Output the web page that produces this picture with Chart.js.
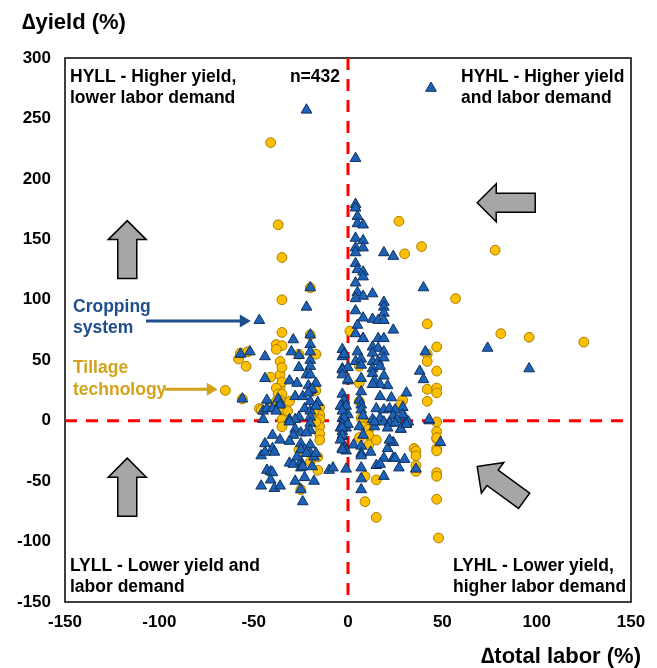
<!DOCTYPE html>
<html>
<head>
<meta charset="utf-8">
<script src="https://cdn.jsdelivr.net/npm/chart.js@4.4.1/dist/chart.umd.min.js"></script>
<style>
  body { margin: 0; background: #fff; }
  #wrap { width: 657px; height: 668px; position: relative; }
</style>
</head>
<body>
<div id="wrap"><canvas id="scatterChart"></canvas></div>
<script>
// axis ranges (% change)
const xRange = [-150, 150];
const yRange = [-150, 300];
const tickStep = 50;

// Cropping system studies: [delta total labor %, delta yield %]
const croppingSystem = [
  [-22,257],[44,275],[4,217],[4,179],[4,176],[5,169],[5,163],[8,162],[4,151],[8,149],[4,143],[8,143],
  [4,139],[19,139],[24,136],[4,130],[5,125],[8,123],[8,119],[-20,110],[4,114],[5,106],[8,103],[4,101],
  [13,105],[40,110],[-22,94],[19,98],[19,94],[19,89],[4,91],[-47,83],[8,85],[13,84],[16,83],[19,83],
  [5,79],[4,72],[24,75],[-20,71],[-29,67],[8,68],[16,68],[19,68],[-20,63],[74,60],[96,43],[41,57],
  [38,41],[40,34],[31,23],[29,11],[30,3],[31,-2],[28,-7],[43,0],[49,-18],
  [-57,55],[-52,57],[-44,53],[-56,18],[-44,35],[-43,17],[-45,8],[-45,1],
  [-20,57],[-30,57],[-26,54],[-20,50],[-26,44],[-20,45],[-22,38],[-20,38],[-31,33],[-27,31],[-21,29],
  [-17,31],[-20,25],[-19,26],[-28,20],[-24,20],[-20,16],[-16,15],[-21,23],[-36,15],[-37,18],[-43,10],
  [-40,10],[-36,13],[-38,8],[-23,10],[-20,8],[-17,12],[-31,1],[-26,3],[-20,3],[-28,1],
  [-31,-1],[-28,-7],[-25,-10],[-20,-2],[-20,-8],[-22,-10],[-40,-12],[-36,-16],[-29,-12],[-31,-17],
  [-44,-19],[-40,-23],[-39,-26],[-46,-29],[-44,-26],[-25,-19],[-20,-20],[-23,-24],[-20,-27],[-25,-24],
  [-22,-27],[-18,-30],[-17,-27],[-19,-38],[-31,-35],[-29,-36],[-25,-34],[-25,-39],[-24,-38],[-27,-30],
  [-43,-41],[-41,-42],[-40,-43],[-23,-47],[-28,-50],[-18,-50],[-41,-49],[-46,-54],[-39,-56],[-36,-54],
  [-25,-57],[-24,-67],[-10,-41],[-8,-39],[-1,-40],
  [8,68],[-3,59],[5,57],[13,61],[16,60],[19,57],[13,56],[-3,53],[4,49],[7,51],[7,46],[13,49],[16,49],
  [19,52],[-3,43],[0,44],[13,43],[17,45],[13,39],[7,35],[0,33],[14,33],[19,37],[21,29],[17,30],[13,30],
  [23,19],[17,20],[7,24],[6,17],[-3,22],[-2,17],[-3,12],[15,10],[19,9],[22,10],[25,9],[29,5],
  [24,4],[17,2],[13,1],[7,13],[7,9],[8,4],[-2,9],[0,5],[-3,2],[26,1],[32,-1],[43,1],
  [-2,55],[-3,42],[-3,38],[0,34],[-4,12],[-1,12],[-3,8],[-2,2],[-3,-3],[-4,-6],[-3,-9],[-1,-6],
  [-3,-13],[-2,-21],[-1,-25],[-3,-23],
  [0,-3],[-3,-6],[-3,-12],[-4,-16],[6,-5],[8,-12],[14,-5],[14,-1],[19,-1],[22,-2],[25,-2],[28,-7],
  [31,-3],[21,-6],[3,-20],[7,-21],[12,-26],[21,-23],[24,-18],[22,-16],[-3,-24],[7,-27],[7,-29],
  [19,-31],[24,-31],[25,-31],[30,-32],[15,-37],[17,-36],[27,-39],[36,-40],[7,-39],[19,-46],[7,-48],[7,-57]
];

// Tillage technology studies: [delta total labor %, delta yield %]
const tillageTech = [
  [-41,230],[-37,162],[27,165],[39,144],[30,138],[-35,135],[-20,110],[57,101],[-35,100],[42,80],[1,74],
  [-35,73],[-20,71],[-38,63],[-35,62],[47,61],[78,141],[81,72],[96,69],[125,65],[42,55],[42,49],
  [47,41],[42,26],[47,27],[47,23],[42,16],[29,17],[35,-23],[47,-1],[47,-9],[47,-15],[47,-23],
  [-58,51],[-57,56],[-53,57],[-54,45],[-65,25],[-56,18],[-38,59],[-36,49],[-36,38],[-36,28],[-47,10],[-41,13],
  [-26,55],[-17,55],[-35,44],[-41,36],[-35,32],[-38,27],[-37,22],[-35,22],[-31,16],[-36,17],[-38,16],
  [-17,25],[-46,9],[-35,9],[-32,8],[-15,11],[-15,5],[-18,8],[-15,1],[-35,1],
  [-35,-5],[-15,-5],[-15,-11],[-15,-16],[-17,-1],[-26,-24],[-20,-34],[-16,-30],[-16,-41],[-25,-57],
  [6,45],[6,31],[28,13],[6,16],[9,-1],[7,2],[8,-5],
  [11,-7],[11,-12],[11,-20],[15,-16],[6,-14],[47,-14],[47,-25],[36,-25],[36,-29],[36,-37],[36,-42],
  [9,-46],[15,-49],[9,-67],[15,-80],[47,-43],[47,-46],[47,-65],[48,-97]
];

const quadrantLabels = [
  ['HYLL - Higher yield,', 'lower labor demand'],
  ['HYHL - Higher yield', 'and labor demand'],
  ['LYLL - Lower yield and', 'labor demand'],
  ['LYHL - Lower yield,', 'higher labor demand']
];
const sampleLabel = 'n=432';

const FONT = '"Liberation Sans", Arial, sans-serif';
const BLUE_TEXT = '#1F4E8C';
const GOLD_TEXT = '#D4A21A';

function blockArrow(ctx, tx, ty, angle) {
  // tip at (tx,ty), body extends along +x after rotation
  const len = 58, headLen = 19, headW = 38, shaftW = 19;
  ctx.save();
  ctx.translate(tx, ty);
  ctx.rotate(angle);
  ctx.beginPath();
  ctx.moveTo(0, 0);
  ctx.lineTo(headLen, -headW / 2);
  ctx.lineTo(headLen, -shaftW / 2);
  ctx.lineTo(len, -shaftW / 2);
  ctx.lineTo(len, shaftW / 2);
  ctx.lineTo(headLen, shaftW / 2);
  ctx.lineTo(headLen, headW / 2);
  ctx.closePath();
  ctx.fillStyle = '#A6A6A6';
  ctx.fill();
  ctx.lineWidth = 1.5;
  ctx.strokeStyle = '#000';
  ctx.stroke();
  ctx.restore();
}

function lineArrow(ctx, x0, x1, y, color) {
  ctx.save();
  ctx.strokeStyle = color;
  ctx.fillStyle = color;
  ctx.lineWidth = 3;
  ctx.beginPath();
  ctx.moveTo(x0, y);
  ctx.lineTo(x1 - 9, y);
  ctx.stroke();
  ctx.beginPath();
  ctx.moveTo(x1, y);
  ctx.lineTo(x1 - 11, y - 6.5);
  ctx.lineTo(x1 - 11, y + 6.5);
  ctx.closePath();
  ctx.fill();
  ctx.restore();
}

const annotations = {
  id: 'annotations',
  beforeDatasetsDraw(chart) {
    const { ctx, chartArea: a } = chart;
    ctx.save();
    ctx.strokeStyle = '#000';
    ctx.lineWidth = 1.5;
    ctx.strokeRect(a.left, a.top, a.right - a.left, a.bottom - a.top);
    ctx.restore();
  },
  afterDatasetsDraw(chart) {
    const { ctx, chartArea: a, scales: { x, y } } = chart;
    ctx.save();
    ctx.textBaseline = 'middle';
    ctx.fillStyle = '#000';
    ctx.font = 'bold 17.5px ' + FONT;

    ctx.textAlign = 'left';
    ctx.fillText(quadrantLabels[0][0], a.left + 5, a.top + 19);
    ctx.fillText(quadrantLabels[0][1], a.left + 5, a.top + 40);
    ctx.fillText(quadrantLabels[1][0], a.right - 170, a.top + 19);
    ctx.fillText(quadrantLabels[1][1], a.right - 170, a.top + 40);
    ctx.fillText(quadrantLabels[2][0], a.left + 5, a.bottom - 36);
    ctx.fillText(quadrantLabels[2][1], a.left + 5, a.bottom - 15);
    ctx.fillText(quadrantLabels[3][0], a.right - 178, a.bottom - 36);
    ctx.fillText(quadrantLabels[3][1], a.right - 178, a.bottom - 15);
    ctx.textAlign = 'right';
    ctx.fillText(sampleLabel, x.getPixelForValue(0) - 8, a.top + 19);

    // series call-outs
    ctx.textAlign = 'left';
    ctx.fillStyle = BLUE_TEXT;
    ctx.fillText('Cropping', a.left + 8, a.top + 249);
    ctx.fillText('system', a.left + 8, a.top + 270);
    lineArrow(ctx, a.left + 81, x.getPixelForValue(-51.5), y.getPixelForValue(82.5), BLUE_TEXT);
    ctx.fillStyle = GOLD_TEXT;
    ctx.fillText('Tillage', a.left + 8, a.top + 310);
    ctx.fillText('technology', a.left + 8, a.top + 332);
    lineArrow(ctx, a.left + 100, x.getPixelForValue(-69), y.getPixelForValue(26), GOLD_TEXT);

    // gray direction arrows
    blockArrow(ctx, x.getPixelForValue(-117), y.getPixelForValue(165.5), Math.PI / 2);
    blockArrow(ctx, x.getPixelForValue(68.5), y.getPixelForValue(180.3), 0);
    blockArrow(ctx, x.getPixelForValue(-117), y.getPixelForValue(-31), Math.PI / 2);
    blockArrow(ctx, x.getPixelForValue(68.5), y.getPixelForValue(-38), Math.atan2(33.3, 45.7));

    // axis titles
    ctx.fillStyle = '#000';
    ctx.font = 'bold 22px ' + FONT;
    ctx.textAlign = 'left';
    ctx.fillText('\u2206yield (%)', 22, 23);
    ctx.textAlign = 'right';
    ctx.fillText('\u2206total labor (%)', 641, 657);
    ctx.restore();
  }
};

const toPoints = arr => arr.map(([px, py]) => ({ x: px, y: py }));

new Chart(document.getElementById('scatterChart').getContext('2d'), {
  type: 'scatter',
  data: {
    datasets: [
      {
        label: 'y=0', type: 'line',
        data: [{ x: xRange[0], y: 0 }, { x: xRange[1], y: 0 }],
        borderColor: '#FF0000', borderWidth: 3, borderDash: [12, 9],
        pointRadius: 0, order: 3
      },
      {
        label: 'x=0', type: 'line',
        data: [{ x: 0, y: yRange[1] }, { x: 0, y: yRange[0] }],
        borderColor: '#FF0000', borderWidth: 3, borderDash: [12, 9],
        pointRadius: 0, order: 3
      },
      {
        label: 'Tillage technology',
        data: toPoints(tillageTech),
        pointStyle: 'circle', pointRadius: 4.9,
        backgroundColor: '#FFC000', borderColor: '#A67C00', borderWidth: 1,
        order: 2
      },
      {
        label: 'Cropping system',
        data: toPoints(croppingSystem),
        pointStyle: 'triangle', pointRadius: 6.2,
        backgroundColor: '#1B62B8', borderColor: '#10305C', borderWidth: 1,
        order: 1
      }
    ]
  },
  options: {
    responsive: true,
    maintainAspectRatio: false,
    animation: false,
    events: [],
    layout: { padding: { top: 58, right: 26, left: 0, bottom: 0 } },
    plugins: { legend: { display: false }, tooltip: { enabled: false } },
    scales: {
      x: {
        type: 'linear', min: xRange[0], max: xRange[1],
        grid: { display: false, drawTicks: false },
        border: { display: false },
        afterFit: s => { s.height = 66; },
        ticks: { stepSize: tickStep, padding: 10, color: '#000', font: { family: FONT, size: 17, weight: 'bold' } }
      },
      y: {
        type: 'linear', min: yRange[0], max: yRange[1],
        grid: { display: false, drawTicks: false },
        border: { display: false },
        afterFit: s => { s.width = 65; },
        ticks: { stepSize: tickStep, padding: 14, color: '#000', font: { family: FONT, size: 17, weight: 'bold' } }
      }
    }
  },
  plugins: [annotations]
});
</script>
</body>
</html>
